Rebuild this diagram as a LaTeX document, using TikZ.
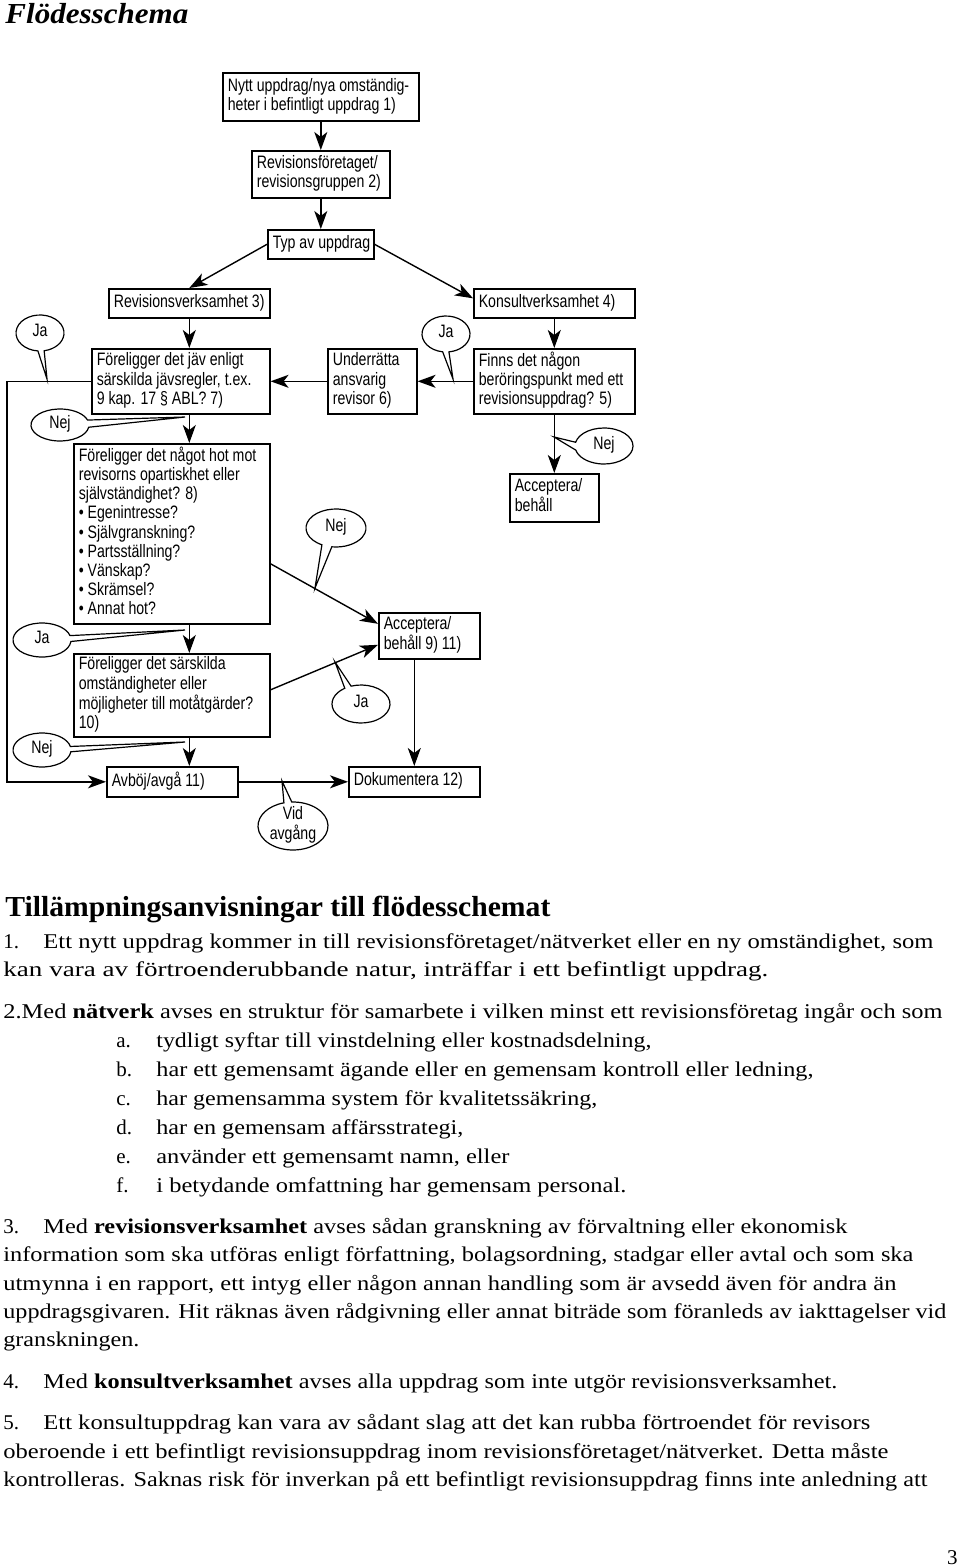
\documentclass[tikz,border=0pt]{standalone}
\usepackage{fontspec}
\usepackage{graphicx}
\setmainfont{Liberation Serif}
\newfontfamily\bxf{Liberation Sans}
\usetikzlibrary{arrows.meta,calc}
\tikzset{
  box/.style={draw, line width=0.8pt, font=\bxf\fontsize{9}{9.6}\selectfont, inner xsep=2.5pt, inner ysep=0pt, anchor=north west},
  arr/.style={line width=0.7pt, -{Stealth[length=9pt,width=6.5pt,inset=2.5pt]}},
  bub/.style={draw, fill=white, line width=0.6pt},
  bubtext/.style={font=\bxf\fontsize{9}{9.6}\selectfont, inner sep=0pt},
  txt/.style={anchor=base west, inner sep=0pt, font=\fontsize{10.5}{12}\selectfont},
}
\newcommand\narrow[2]{\scalebox{0.785}[1]{\begin{tabular}{@{}#1@{}}#2\end{tabular}}}
\newcommand\mkbox[5]{\node[box, minimum height=#4pt] (#1) at (#2) {\makebox[#3pt][l]{\narrow{l}{#5}}};}
\newcommand\bubble[8]{%
  \coordinate (#1-tip) at (#7);
  \draw[bub] (#2) ++(#6:#3 and #4) arc[start angle=#6, end angle={#5+360}, x radius=#3, y radius=#4] -- (#1-tip) -- cycle;
  \node[bubtext] (#1) at (#2) {\narrow{c}{#8}};
}
\newcommand\fitline[4]{\node[txt] (#1) at (#2) {\resizebox{#3pt}{\height}{#4}};}
\newcommand\natline[3]{\node[txt] (#1) at (#2) {#3};}
\begin{document}
\begin{tikzpicture}[x=0.5pt,y=-0.5pt]
\fill[white] (0,0) rectangle (960,1568);
\useasboundingbox (0,0) rectangle (960,1568);

% title
\node[txt, font=\bfseries\itshape\fontsize{14.5}{16}\selectfont] (title) at (5,24) {\resizebox{91.5pt}{\height}{Flödesschema}};

% boxes
\mkbox{b1}{222,72}{93}{24}{Nytt uppdrag/nya omständig-\\heter i befintligt uppdrag 1)}
\mkbox{b2}{251,150}{64}{23.5}{Revisionsföretaget/\\revisionsgruppen 2)}
\mkbox{b3}{267,229}{48}{14.5}{Typ av uppdrag}
\mkbox{b4}{108,288}{75.5}{14.5}{Revisionsverksamhet 3)}
\mkbox{b5}{473,288}{75.5}{14.5}{Konsultverksamhet 4)}
\mkbox{b6}{91,348}{84}{32.5}{Föreligger det jäv enligt\\särskilda jävsregler, t.ex.\\9 kap. 17 § ABL? 7)}
\mkbox{b7}{327,348}{39.5}{32.5}{Underrätta\\ansvarig\\revisor 6)}
\mkbox{b8}{473,348}{75.5}{32.5}{Finns det någon\\beröringspunkt med ett\\revisionsuppdrag? 5)}
\mkbox{b9}{509,473}{39.5}{24}{Acceptera/\\behåll}
\mkbox{b10}{73,443}{93}{90}{Föreligger det något hot mot\\revisorns opartiskhet eller\\självständighet? 8)\\• Egenintresse?\\• Självgranskning?\\• Partsställning?\\• Vänskap?\\• Skrämsel?\\• Annat hot?}
\mkbox{b11}{378,612}{45.5}{23}{Acceptera/\\behåll 9) 11)}
\mkbox{b12}{73,653}{93}{41.5}{Föreligger det särskilda\\omständigheter eller\\möjligheter till motåtgärder?\\10)}
\mkbox{b13}{106,766}{60.5}{15}{Avböj/avgå 11)}
\mkbox{b14}{348,766}{60.5}{15}{Dokumentera 12)}

% connectors
\draw[arr] (b1) -- (b2);
\draw[arr] (b2) -- (b3);
\draw[arr] (b3.west) -- (b4.north);
\draw[arr] (b3.east) -- ([yshift=2.5pt]b5.west);
\draw[arr] (b4.south) -- (b4.south |- b6.north);
\draw[arr] (b5) -- (b8);
\draw[arr] (b8) -- (b7);
\draw[arr] (b7) -- (b6);
\draw[arr] (b8) -- (b9);
\draw[arr] (b6.south -| b4) -- (b10.north -| b4);
\draw[arr] (b10.south -| b4) -- (b12.north -| b4);
\draw[arr] (b12.south -| b4) -- (b13.north -| b4);
\draw[arr] ([yshift=-15pt]b10.east) -- ([yshift=6pt]b11.west);
\draw[arr] ([yshift=2.75pt]b12.east) -- ([yshift=-4.5pt]b11.west);
\draw[arr] (b11.south -| b14) -- (b14.north);
\draw[arr] (b13) -- (b14);
\coordinate (lp) at (7,580);
\draw[arr] (b6.west) -- (b6.west -| lp) |- (b13.west);

% callouts
\bubble{ja1}{40,333}{24}{18}{80}{95}{47,379}{Ja}
\bubble{nej1}{60,425}{29}{16}{-18}{8}{185,417}{Nej}
\bubble{ja2}{446,334}{24}{18}{83}{98}{453,379}{Ja}
\bubble{nej2}{604,446}{29}{18}{167}{192}{554,437}{Nej}
\bubble{nej3}{336,528}{30}{19}{98}{118}{315,588}{Nej}
\bubble{ja3}{42,640}{29}{17}{-15}{5}{185,630}{Ja}
\bubble{ja4}{361,704}{29}{19}{236}{250}{335,662}{Ja}
\bubble{nej4}{42,750}{29}{17}{-12}{6}{185,742}{Nej}
\bubble{vid}{293,826}{35}{24}{255}{268}{282,781}{Vid\\avgång}

% text section
\node[txt, font=\bfseries\fontsize{14.5}{16}\selectfont] (head) at (5,916) {\resizebox{272.5pt}{\height}{Tillämpningsanvisningar till flödesschemat}};

\natline{n1}{3,948}{1.}
\fitline{l1}{43,948}{445}{Ett nytt uppdrag kommer in till revisionsföretaget/nätverket eller en ny omständighet, som}
\fitline{l2}{3,976}{382.5}{kan vara av förtroenderubbande natur, inträffar i ett befintligt uppdrag.}
\fitline{l3}{3,1018}{469.5}{2.Med \textbf{nätverk} avses en struktur för samarbete i vilken minst ett revisionsföretag ingår och som}
\natline{la}{116,1047}{a.}
\fitline{ta}{156,1047}{247.5}{tydligt syftar till vinstdelning eller kostnadsdelning,}
\natline{lb}{116,1076}{b.}
\fitline{tb}{156,1076}{328.5}{har ett gemensamt ägande eller en gemensam kontroll eller ledning,}
\natline{lc}{116,1105}{c.}
\fitline{tc}{156,1105}{220.5}{har gemensamma system för kvalitetssäkring,}
\natline{ld}{116,1134}{d.}
\fitline{td}{156,1134}{153.5}{har en gemensam affärsstrategi,}
\natline{le}{116,1163}{e.}
\fitline{te}{156,1163}{176.5}{använder ett gemensamt namn, eller}
\natline{lf}{116,1192}{f.}
\fitline{tf}{156,1192}{235}{i betydande omfattning har gemensam personal.}

\natline{n3}{3,1233}{3.}
\fitline{m1}{43,1233}{402}{Med \textbf{revisionsverksamhet} avses sådan granskning av förvaltning eller ekonomisk}
\fitline{m2}{3,1261}{455}{information som ska utföras enligt författning, bolagsordning, stadgar eller avtal och som ska}
\fitline{m3}{3,1290}{446.5}{utmynna i en rapport, ett intyg eller någon annan handling som är avsedd även för andra än}
\fitline{m4}{3,1318}{471.5}{uppdragsgivaren. Hit räknas även rådgivning eller annat biträde som föranleds av iakttagelser vid}
\fitline{m5}{3,1346}{68}{granskningen.}

\natline{n4}{3,1388}{4.}
\fitline{k1}{43,1388}{397}{Med \textbf{konsultverksamhet} avses alla uppdrag som inte utgör revisionsverksamhet.}

\natline{n5}{3,1429}{5.}
\fitline{p1}{43,1429}{413.5}{Ett konsultuppdrag kan vara av sådant slag att det kan rubba förtroendet för revisors}
\fitline{p2}{3,1458}{442.5}{oberoende i ett befintligt revisionsuppdrag inom revisionsföretaget/nätverket. Detta måste}
\fitline{p3}{3,1486}{462}{kontrolleras. Saknas risk för inverkan på ett befintligt revisionsuppdrag finns inte anledning att}

\node[txt, anchor=base east] (pg) at (958,1564) {3};
\end{tikzpicture}
\end{document}
